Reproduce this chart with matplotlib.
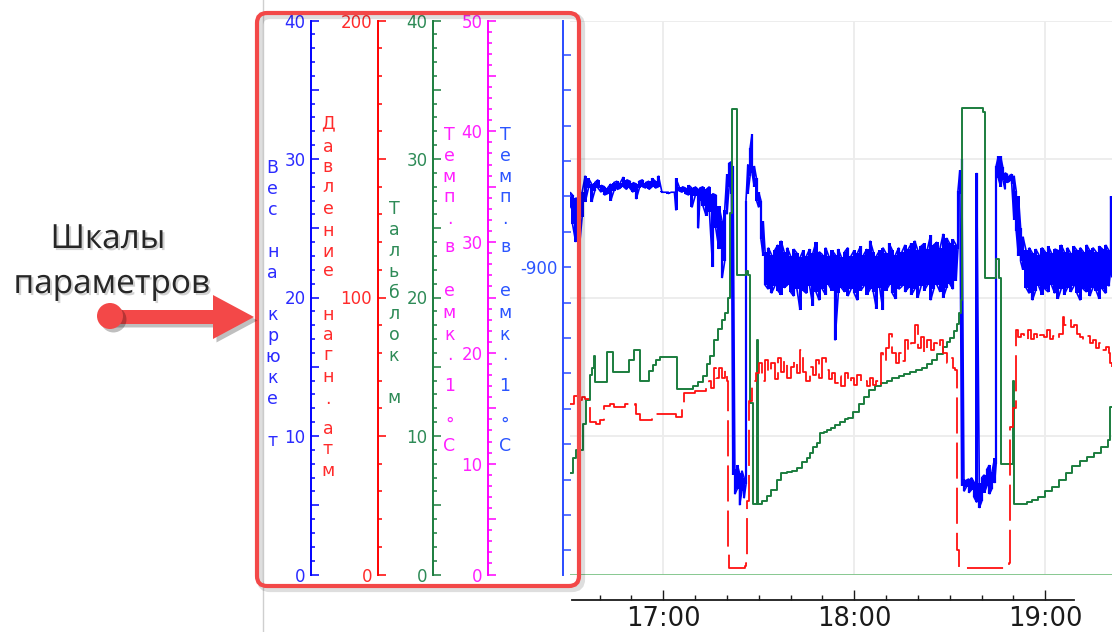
import matplotlib
matplotlib.use("Agg")
import matplotlib.pyplot as plt
from matplotlib.ticker import MultipleLocator, FixedLocator, FuncFormatter
from matplotlib.patches import FancyBboxPatch, Circle, Polygon
from matplotlib.transforms import IdentityTransform
from matplotlib.lines import Line2D
import matplotlib.patheffects as pe

plt.rcParams['axes.unicode_minus'] = False
plt.rcParams['font.family'] = ['DejaVu Sans']

W, H, DPI = 1112, 632, 100

# ---------------- data (time in minutes after midnight) ----------------
hook_t = [990.7, 991.5, 992.5, 993.5, 994.5, 995.5, 996.5, 997.5, 998.5, 999.5,
          1000.5, 1001.5, 1002.5, 1003.5, 1004.5, 1005.5, 1006.5, 1007.5, 1008.5, 1009.5,
          1010.5, 1011.5, 1012.5, 1013.5, 1014.5, 1015.5, 1016.5, 1017.5, 1018.5, 1019.5,
          1020.5, 1021.5, 1022.5, 1023.5, 1024.0, 1025.0, 1026.0, 1027.0, 1028.0, 1029.0,
          1030.0, 1031.0, 1031.5, 1032.5, 1033.5, 1034.5, 1035.5, 1036.5, 1037.5, 1038.5,
          1039.3, 1040.0, 1040.7, 1041.4, 1041.9, 1042.5, 1043.3, 1044.0, 1044.7, 1045.4,
          1046.0, 1046.6, 1047.3, 1047.9, 1048.6, 1049.3, 1050.0, 1050.7, 1051.4,
          1052, 1053, 1054, 1055, 1056, 1057, 1058, 1059, 1060, 1061,
          1062, 1063, 1064, 1065, 1066, 1067, 1068, 1069, 1070, 1071,
          1072, 1073, 1074, 1075, 1076, 1077, 1078, 1079, 1080, 1081,
          1082, 1083, 1084, 1085, 1086, 1087, 1088, 1089, 1090, 1091,
          1092, 1093, 1094, 1095, 1096, 1097, 1098, 1099, 1100, 1101,
          1102, 1103, 1104, 1105, 1106, 1107, 1108, 1109, 1110, 1111, 1112,
          1112.6, 1113.2, 1113.8, 1114.5, 1115.2, 1116.0, 1116.8, 1117.6, 1118.5, 1119.3,
          1120.1, 1120.9, 1121.7, 1122.5, 1123.3, 1124.1, 1124.6, 1125.3, 1126.0, 1126.7,
          1127.4, 1128.1, 1128.8, 1129.5, 1130.2, 1130.9, 1131.6, 1132.3, 1133.0,
          1134, 1135, 1136, 1137, 1138, 1139, 1140, 1141, 1142, 1143,
          1144, 1145, 1146, 1147, 1148, 1149, 1150, 1151, 1152, 1153,
          1154, 1155, 1156, 1157, 1158, 1159, 1160, 1160.6, 1161]
hook_lo = [26.5, 25.3, 24.0, 23.2, 25.8, 26.9, 27.9, 26.9, 27.7, 27.9,
           27.6, 27.4, 27.5, 27.0, 27.7, 27.8, 27.9, 28.0, 27.8, 27.9,
           27.6, 27.1, 27.9, 28.0, 27.9, 27.8, 28.0, 27.9, 28.0, 27.6,
           27.6, 27.5, 27.6, 27.6, 26.3, 27.7, 27.6, 27.5, 27.4, 26.5,
           27.3, 25.0, 27.0, 26.6, 25.9, 26.2, 22.2, 25.0, 23.5, 21.4,
           22.6, 26.0, 28.0, 27.5, 7.2, 5.8, 6.2, 5.0, 6.0, 5.5,
           6.5, 27.5, 28.8, 29.0, 28.0, 27.0, 26.5, 24.2, 23.0,
           20.9, 20.6, 20.3, 20.8, 20.5, 20.2, 20.7, 20.9, 20.4, 20.1,
           20.6, 19.1, 20.5, 20.3, 20.8, 19.4, 20.4, 19.8, 20.6, 20.2,
           20.9, 20.5, 16.9, 20.3, 20.7, 20.4, 20.1, 20.6, 20.3, 19.8,
           20.5, 20.8, 20.2, 20.6, 20.4, 19.2, 20.7, 19.1, 20.5, 20.9,
           20.3, 19.9, 20.6, 20.8, 20.4, 20.7, 20.2, 20.6, 20.0, 20.8,
           20.5, 20.9, 19.8, 20.6, 20.9, 20.4, 20.0, 20.7, 21.0, 20.6, 21.2,
           23.5, 27.5, 6.4, 6.0, 6.3, 5.9, 6.1, 5.6, 5.2, 4.8,
           5.3, 5.9, 6.4, 5.8, 6.2, 6.6, 8.0, 28.6, 28.0, 28.5,
           27.8, 28.3, 28.4, 28.2, 25.6, 24.8, 23.0, 22.6, 22.0,
           20.7, 20.3, 19.8, 20.5, 20.8, 20.2, 20.6, 20.4, 20.9, 20.3,
           19.9, 20.6, 20.2, 20.7, 20.4, 20.8, 20.3, 19.8, 20.6, 20.4,
           20.1, 20.7, 20.5, 19.9, 20.6, 20.3, 20.8, 22.0, 21.5]
hook_hi = [27.6, 27.4, 27.2, 27.0, 27.6, 28.8, 28.6, 28.2, 28.3, 28.5,
           28.1, 28.0, 27.9, 28.2, 28.3, 28.4, 28.3, 28.7, 28.5, 28.4,
           28.3, 28.2, 28.4, 28.5, 28.3, 28.4, 28.6, 28.4, 28.8, 27.7,
           27.6, 27.6, 27.6, 27.6, 28.6, 28.0, 28.0, 27.9, 28.1, 27.9,
           28.0, 27.8, 27.9, 28.0, 27.8, 28.0, 27.5, 27.4, 26.6, 25.5,
           26.3, 28.9, 29.7, 29.8, 29.5, 7.6, 7.9, 7.3, 7.5, 7.0,
           27.0, 29.6, 30.8, 31.8, 29.5, 28.6, 27.6, 27.0, 25.5,
           23.3, 23.6, 23.1, 23.4, 23.8, 24.1, 23.3, 23.6, 23.0, 23.5,
           23.2, 22.9, 23.4, 23.0, 23.5, 23.2, 24.0, 23.3, 23.1, 23.6,
           23.0, 23.4, 23.1, 23.5, 22.9, 23.3, 23.6, 23.0, 23.4, 23.2,
           23.7, 23.1, 23.5, 24.1, 23.3, 23.0, 23.4, 23.6, 23.2, 23.9,
           23.4, 23.1, 23.6, 23.3, 23.8, 23.5, 23.9, 24.1, 23.4, 23.7,
           23.9, 23.5, 24.5, 23.8, 24.0, 23.6, 24.6, 24.3, 23.9, 24.2, 23.8,
           27.7, 29.2, 30.0, 6.9, 6.8, 6.9, 7.0, 6.7, 29.0, 6.6,
           7.0, 7.2, 7.6, 7.9, 7.4, 8.4, 29.5, 30.2, 30.2, 29.4,
           29.0, 28.9, 28.8, 28.9, 28.8, 27.7, 27.3, 25.0, 24.4,
           23.4, 23.6, 23.2, 23.5, 23.1, 23.6, 23.3, 23.7, 23.2, 23.5,
           23.4, 23.8, 23.3, 23.6, 23.2, 23.7, 23.4, 23.6, 23.3, 23.8,
           23.4, 23.6, 23.3, 23.7, 23.5, 23.8, 23.4, 27.3, 24.0]

press_t = [990.7, 991.4, 992.0, 992.7, 993.5, 994.5, 995.5, 996.5, 997.0, 998.0,
           999.0, 1000.0, 1001.0, 1001.3, 1002.5, 1003.3, 1004.5, 1006.4, 1008.0, 1009.5,
           1011.0, 1011.5, 1012.7, 1014.5, 1016.5, 1020.0, 1023.0, 1024.0, 1026.0, 1026.5,
           1029.0, 1030.0, 1032.5, 1033.5, 1034.5, 1035.0, 1036.0, 1036.5, 1037.5, 1038.5,
           1039.5, 1040.0, 1040.3, 1040.8, 1045.5, 1045.7, 1046.0, 1046.2, 1047.0, 1048.0,
           1049, 1050, 1051, 1052, 1053, 1054, 1055, 1056, 1057, 1058,
           1059, 1060, 1061, 1062, 1063, 1064, 1065, 1066, 1067, 1068,
           1069, 1070, 1071, 1072, 1073, 1074, 1075, 1076, 1077, 1078,
           1079, 1080, 1081, 1082, 1083, 1084, 1085, 1086, 1087, 1088,
           1088.5, 1089, 1090, 1091, 1092, 1093, 1094, 1095, 1096, 1097,
           1098, 1099, 1100, 1101, 1102, 1103, 1104, 1105, 1106, 1107,
           1108, 1109, 1110, 1111, 1111.8, 1112.3, 1113.0, 1126.0, 1128.5, 1129.0,
           1130.0, 1130.8, 1131.5, 1132.5, 1133.5, 1134.5, 1135.5, 1136.5, 1137.5, 1138.5,
           1139.5, 1140.5, 1141.5, 1142.5, 1143.5, 1144.5, 1145.5, 1146.0, 1147.0, 1148.0,
           1149.0, 1150.0, 1151.0, 1152.0, 1153.0, 1154.0, 1155.0, 1156.0, 1157.0, 1158.0,
           1159.0, 1160.0, 1160.5, 1161.0]
press_v = [61.7, 61.7, 64.6, 64.6, 63.0, 64.0, 63.5, 63.5, 54.9, 54.9,
           54.5, 55.6, 55.6, 61.0, 61.0, 61.7, 60.3, 60.3, 61.7, 61.0,
           61.7, 58.1, 55.6, 55.6, 58.1, 58.1, 58.1, 56.7, 61.0, 65.7,
           65.7, 66.4, 66.4, 67.5, 70.0, 67.5, 74.7, 71.1, 74.4, 71.1,
           74.0, 70.0, 8.7, 2.2, 2.2, 3.2, 4.0, 26.7, 62.8, 70.0,
           72.6, 76.2, 70.0, 77.3, 72.6, 76.2, 70.5, 78.3, 73.0, 77.3,
           71.0, 75.0, 77.3, 72.6, 80.9, 73.0, 70.0, 75.0, 72.0, 77.3,
           71.1, 78.3, 74.0, 70.5, 72.6, 69.0, 71.5, 68.2, 72.6, 69.0,
           71.1, 68.5, 72.0, 69.0, 70.0, 68.2, 71.0, 68.5, 70.0, 68.2,
           79.8, 77.0, 81.9, 87.0, 79.8, 76.2, 79.8, 77.0, 84.5, 80.9,
           83.4, 89.9, 81.9, 85.6, 79.8, 84.5, 80.9, 83.4, 81.9, 84.5,
           79.8, 76.2, 78.3, 74.5, 74.0, 8.7, 2.2, 2.2, 4.0, 53.1,
           60.0, 88.1, 85.6, 87.0, 84.5, 88.1, 85.0, 87.0, 84.5, 86.5,
           85.6, 88.1, 85.0, 86.0, 85.0, 87.0, 92.8, 90.0, 92.0, 89.2,
           90.0, 87.0, 85.6, 84.5, 86.0, 83.4, 84.5, 81.9, 83.4, 80.9,
           82.0, 79.8, 76.2, 75.0]

block_t = [990.9, 991.5, 992.5, 994.8, 995.7, 997.0, 997.6, 998.2, 998.5, 1002.3,
           1004.2, 1009.2, 1010.8, 1012.7, 1015.5, 1016.8, 1017.7, 1019.0, 1024.3, 1029.3,
           1030.9, 1032.5, 1033.7, 1034.6, 1035.9, 1037.2, 1038.4, 1039.4, 1040.3, 1041.0,
           1041.6, 1043.2, 1046.0, 1046.6, 1047.2, 1048.2, 1049.4, 1049.7, 1051.0, 1052.6,
           1054.0, 1055.7, 1057.0, 1058.9, 1060.5, 1062.0, 1063.5, 1065.1, 1066.0, 1067.0,
           1068.3, 1069.2, 1070.5, 1071.4, 1072.7, 1074.0, 1075.5, 1077.0, 1078.0, 1079.5,
           1081.5, 1083.0, 1084.6, 1086.5, 1088.5, 1090.3, 1092.0, 1094.0, 1095.6, 1097.5,
           1099.5, 1101.3, 1103.0, 1104.4, 1106.0, 1107.9, 1109.0, 1110.1, 1111.3, 1112.3,
           1113.0, 1113.5, 1113.8, 1120.4, 1121.1, 1124.5, 1125.4, 1126.1, 1129.9, 1130.2,
           1130.5, 1132.5, 1134.3, 1136.0, 1137.7, 1140.0, 1142.1, 1144.5, 1146.5, 1148.5,
           1150.9, 1153.0, 1155.3, 1157.5, 1159.7, 1160.3, 1161.0]
block_v = [7.3, 8.4, 9.0, 10.9, 12.6, 14.4, 14.9, 15.8, 13.9, 16.1,
           14.6, 15.5, 16.2, 14.0, 14.7, 15.1, 15.5, 15.7, 13.4, 13.6,
           13.9, 14.3, 15.2, 15.8, 16.9, 17.7, 18.4, 18.9, 20.0, 26.1,
           33.6, 21.6, 21.9, 21.6, 12.4, 5.1, 16.9, 5.1, 5.3, 5.7,
           6.1, 6.8, 7.3, 7.4, 7.5, 7.7, 8.1, 8.4, 8.8, 9.2,
           9.5, 10.2, 10.3, 10.4, 10.6, 10.8, 11.0, 11.2, 11.3, 11.7,
           12.3, 12.8, 13.3, 13.6, 13.8, 14.0, 14.2, 14.3, 14.5, 14.6,
           14.8, 14.9, 15.2, 15.5, 15.9, 16.4, 16.8, 17.1, 17.6, 18.1,
           18.9, 19.8, 33.7, 33.4, 21.4, 22.8, 21.4, 8.0, 14.0, 5.1,
           5.1, 5.1, 5.2, 5.4, 5.6, 6.0, 6.3, 6.8, 7.3, 7.8,
           8.2, 8.5, 8.8, 9.2, 9.7, 12.1, 12.1]

temp_t = [990.7, 1161.0]
temp_v = [0.0, 0.0]

hour_ticks = [1020, 1080, 1140]
minor_ticks = [1000, 1010, 1030, 1040, 1050, 1060, 1070, 1090, 1100, 1110, 1120, 1130]

scale_titles = ["Вес на крюке т", "Давление нагн.атм", "Тальблок м",
                "Темп.в емк.1 °С", "Темп.в емк.1 °С"]
scale_limits = [(0, 40), (0, 200), (0, 40), (0, 50), (-986.8, -830.3)]
scale_label_steps = [10, 100, 10, 10, None]
scale_fixed_labels = [None, None, None, None, [-900]]

annotation_lines = ["Шкалы", "параметров"]

# ---------------- layout ----------------
fig = plt.figure(figsize=(W / DPI, H / DPI), dpi=DPI)
fig.patch.set_facecolor('white')

TOP, BOT = 20.5, 574.5
def fx(x):
    return x / W
def fy(y):
    return 1 - y / H

ax_h = fig.add_axes([fx(570), fy(BOT), fx(1112) - fx(570), (BOT - TOP) / H])
ax_b = ax_h.twinx()
ax_p = ax_h.twinx()
for a in (ax_h, ax_b, ax_p):
    for s in a.spines.values():
        s.set_visible(False)
    a.set_xlim(990.7, 1161.0)
    a.patch.set_visible(False)
ax_h.set_ylim(0, 40)
ax_b.set_ylim(0, 40)
ax_p.set_ylim(0, 200)
ax_b.set_yticks([])
ax_p.set_yticks([])

# grid
ax_h.yaxis.set_major_locator(MultipleLocator(10))
ax_h.tick_params(axis='y', left=False, labelleft=False, right=False)
ax_h.xaxis.set_major_locator(FixedLocator(hour_ticks))
ax_h.xaxis.set_minor_locator(FixedLocator(minor_ticks))
ax_h.grid(True, which='major', color='#ececec', lw=1.3)
ax_h.set_axisbelow(True)

ax_h.spines['bottom'].set_visible(True)
ax_h.spines['bottom'].set_position(('outward', 18))
ax_h.spines['bottom'].set_bounds(991.3, 1149.2)
ax_h.spines['bottom'].set_color('#1a1a1a')
ax_h.spines['bottom'].set_linewidth(1.3)
ax_h.xaxis.set_major_formatter(FuncFormatter(lambda v, p: f"{int(v) // 60}:{int(v) % 60:02d}"))
ax_h.tick_params(axis='x', which='major', direction='in', length=7.5, width=1.0,
                 color='#1a1a1a', labelsize=18.5, labelcolor='#1a1a1a', pad=5)
ax_h.tick_params(axis='x', which='minor', direction='in', length=3.8, width=1.0, color='#1a1a1a')

# zero (temperature) line
ax_b.plot(temp_t, temp_v, color='#6cbf78', lw=1.1, zorder=1)

# hook load: min/max envelope per sample
bx, by = [], []
for i, (t, lo, hi) in enumerate(zip(hook_t, hook_lo, hook_hi)):
    bx += [t, t]
    by += [lo, hi] if i % 2 == 0 else [hi, lo]
ax_h.fill_between(hook_t, hook_lo, hook_hi, step='mid', color='#0000ff', lw=0, zorder=3)
ax_h.vlines(hook_t, hook_lo, hook_hi, color='#0000ff', lw=1.6, zorder=3)
ax_h.plot(bx, by, color='#0000ff', lw=1.2, solid_joinstyle='miter', zorder=3)

# block position
ax_b.plot(block_t, block_v, color='#1b7d3e', lw=1.4, drawstyle='steps-post', zorder=4)
# pressure
ax_p.plot(press_t, press_v, color='#ff1010', lw=1.3, drawstyle='steps-post',
          linestyle=(0, (20, 5)), zorder=5)

# ---------------- scale axes ----------------
scale_x = [311, 377.7, 433.3, 488.3, 562.7]
scale_col = ['#0000ff', '#ff0000', '#1b7d3e', '#ff00ff', '#2a4cff']
text_col = ['#2b2bff', '#ff2b2b', '#2e8b57', '#ff20ff', '#2b55ff']
major_steps = [5, 50, 5, 5, 10]
minor_steps = [1, 10, 1, 1, None]

for i in range(5):
    a = fig.add_axes([fx(scale_x[i]), fy(BOT), 0.0001, (BOT - TOP) / H])
    a.patch.set_visible(False)
    for k in ('top', 'right', 'bottom'):
        a.spines[k].set_visible(False)
    a.spines['left'].set_color(scale_col[i])
    a.spines['left'].set_linewidth(1.4)
    a.xaxis.set_visible(False)
    a.set_ylim(*scale_limits[i])
    a.yaxis.set_major_locator(MultipleLocator(major_steps[i]))
    if minor_steps[i]:
        a.yaxis.set_minor_locator(MultipleLocator(minor_steps[i]))
    step = scale_label_steps[i]
    fixed = scale_fixed_labels[i]
    if fixed:
        a.yaxis.set_major_formatter(FuncFormatter(
            lambda v, p, f=fixed: f"{v:.0f}" if any(abs(v - q) < 1e-6 for q in f) else ''))
    else:
        a.yaxis.set_major_formatter(FuncFormatter(
            lambda v, p, s=step: f"{v:.0f}" if abs(v / s - round(v / s)) < 1e-6 else ''))
    a.tick_params(axis='y', which='major', direction='in', length=5.5, width=1.1,
                  color=scale_col[i], labelcolor=text_col[i], labelsize=12, pad=4)
    a.tick_params(axis='y', which='minor', direction='in', length=3.0, width=1.1,
                  color=scale_col[i])

# stacked vertical titles
title_x = [272.7, 328, 394, 449.5, 505]
title_base = [
    [173 + 21 * k for k in range(14)],
    [128, 151.5, 171.5, 192.5, 214.5, 235.5, 256.5, 276.5, 298, 319.5, 339.5, 360.5,
     382.5, 403.5, 434.5, 454.5, 476.5],
    [214 + 21 * k for k in range(10)],
    [140, 161.5, 182.5, 202.5, 223.5, 252.5, 274, 296, 317.5, 339.5, 359.5, 391, 410, 429.5, 451],
    [140, 161.5, 182.5, 202.5, 223.5, 252.5, 274, 296, 317.5, 339.5, 359.5, 391, 410, 429.5, 451],
]
for i, title in enumerate(scale_titles):
    for ch, b in zip(title, title_base[i]):
        if ch == ' ':
            continue
        fig.text(fx(title_x[i]), fy(b), ch, ha='center', va='baseline',
                 fontsize=12.5, color=text_col[i])

# ---------------- annotation ----------------
idt = IdentityTransform()
fig.add_artist(Line2D([263, 263], [0, H], transform=idt, color='#cfcfcf', lw=1.0, zorder=0))

red = '#f34848'
shadow = FancyBboxPatch((260, H - 589), 322, 573,
                        boxstyle='round,pad=0,rounding_size=10', transform=idt,
                        fill=False, ec=(0, 0, 0, 0.13), lw=4.5, zorder=9)
fig.add_artist(shadow)
box = FancyBboxPatch((257, H - 586), 322, 573, boxstyle='round,pad=0,rounding_size=10',
                     transform=idt, fill=False, ec=red, lw=3.0, zorder=10)
fig.add_artist(box)

arrow_pts = [(110, H - 310), (213, H - 310), (213, H - 295), (254, H - 317),
             (213, H - 339), (213, H - 324), (110, H - 324)]
sh_eff = [pe.SimplePatchShadow(offset=(2.5, -2.5), shadow_rgbFace='black', alpha=0.25), pe.Normal()]
arr = Polygon(arrow_pts, closed=True, transform=idt, fc=red, ec='none', zorder=10)
arr.set_path_effects(sh_eff)
fig.add_artist(arr)
dot = Circle((110, H - 316), 13, transform=idt, fc=red, ec='none', zorder=10)
dot.set_path_effects(sh_eff)
fig.add_artist(dot)

txt_eff = [pe.SimplePatchShadow(offset=(1.5, -1.5), shadow_rgbFace='gray', alpha=0.35), pe.Normal()]
fig.text(fx(108), fy(248), annotation_lines[0], ha='center', va='baseline',
         fontsize=24, family='Open Sans', color='#262626', path_effects=txt_eff)
fig.text(fx(112), fy(293), annotation_lines[1], ha='center', va='baseline',
         fontsize=24, family='Open Sans', color='#262626', path_effects=txt_eff)

fig.savefig('out.png', dpi=DPI, facecolor='white')
